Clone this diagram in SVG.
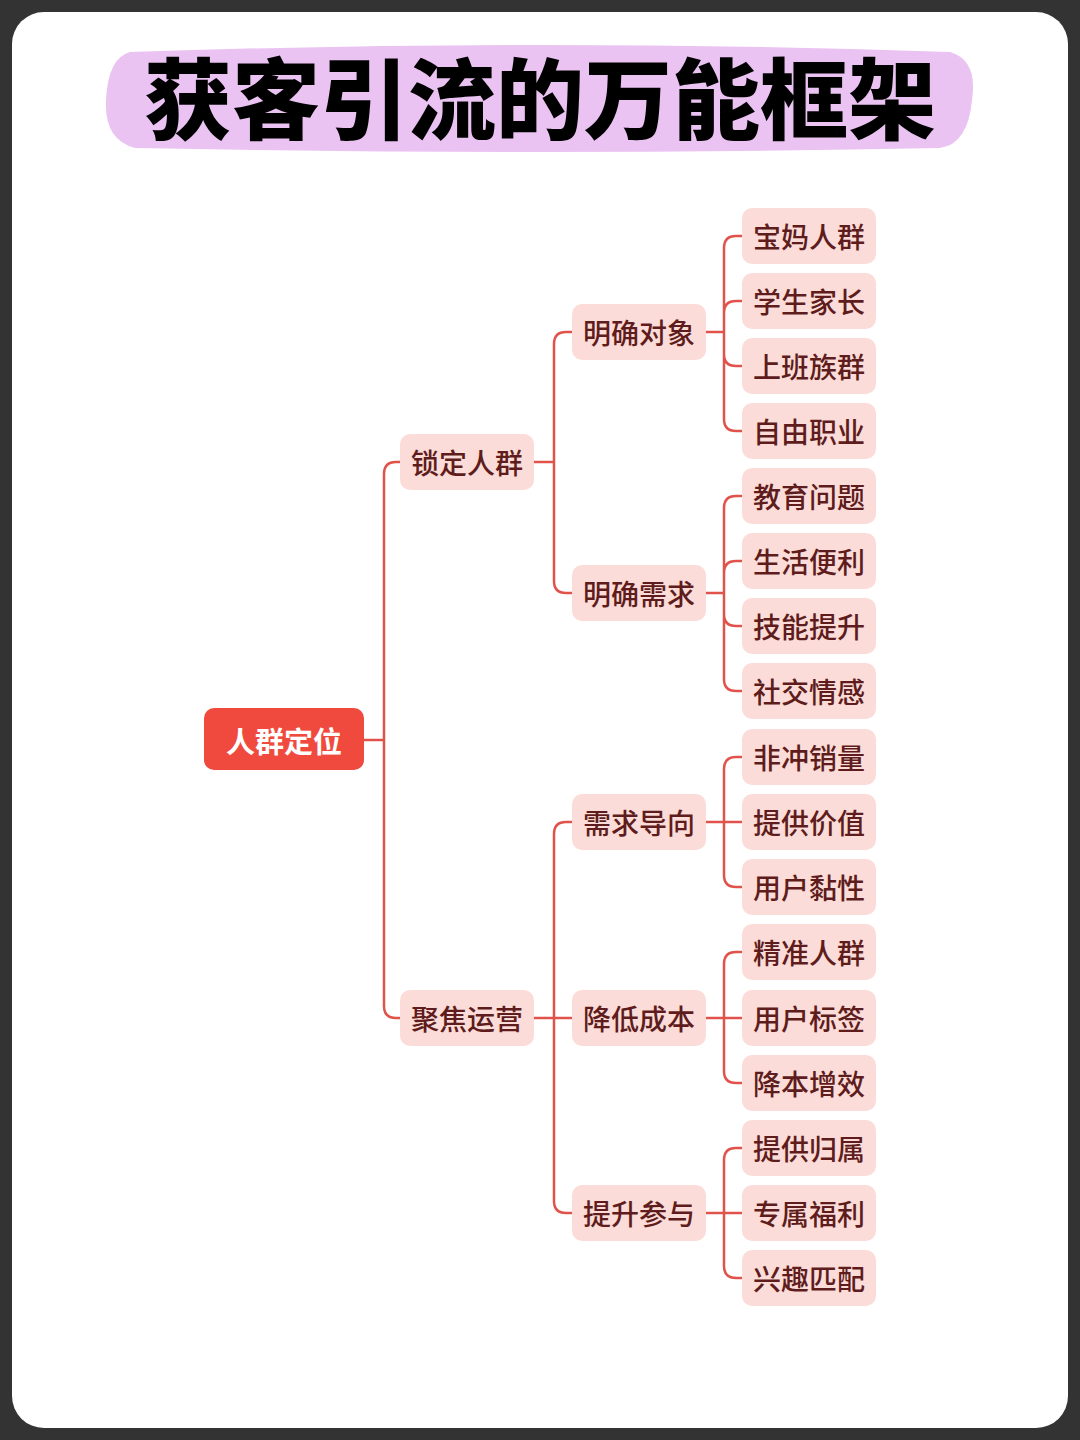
<svg xmlns="http://www.w3.org/2000/svg" width="1080" height="1440" viewBox="0 0 1080 1440">
<style>
.n rect{fill:#fcdcd8}
.n text{font-family:"Noto Sans CJK SC",sans-serif;font-size:28px;font-weight:500;fill:#5e1c1c;text-anchor:middle;dominant-baseline:central}
#conn path{fill:none;stroke:#e0534b;stroke-width:2.5}
</style>
<rect x="0" y="0" width="1080" height="1440" fill="#333"/>
<rect x="12" y="12" width="1056" height="1416" rx="32" fill="#fff"/>
<path d="M130,52 Q540,38 950,52 Q978,60 972,100 Q968,144 940,148 Q540,156 135,148 Q104,140 106,100 Q108,58 130,52Z" fill="#ebc3f2"/>
<text x="540" y="132" font-family="Noto Sans CJK SC,sans-serif" font-size="88" font-weight="900" text-anchor="middle" fill="#000">获客引流的万能框架</text>
<g id="conn">
<path d="M364,740 H384 M384,740 V474 Q384,462 396,462 H400 M384,740 V1006 Q384,1018 396,1018 H400"/>
<path d="M534,462 H554 V344 Q554,332 566,332 H572 M554,462 V581 Q554,593 566,593 H572"/>
<path d="M534,1018 H572 M554,1018 V834 Q554,822 566,822 H572 M554,1018 V1201 Q554,1213 566,1213 H572"/>
<path d="M706,332 H724 V248 Q724,236 736,236 H742 M724,332 V313 Q724,301 736,301 H742 M724,332 V354 Q724,366 736,366 H742 M724,332 V419 Q724,431 736,431 H742"/>
<path d="M706,593 H724 V508 Q724,496 736,496 H742 M724,593 V573 Q724,561 736,561 H742 M724,593 V614 Q724,626 736,626 H742 M724,593 V679 Q724,691 736,691 H742"/>
<path d="M706,822 H742 M724,822 V769 Q724,757 736,757 H742 M724,822 V875 Q724,887 736,887 H742"/>
<path d="M706,1018 H742 M724,1018 V964 Q724,952 736,952 H742 M724,1018 V1071 Q724,1083 736,1083 H742"/>
<path d="M706,1213 H742 M724,1213 V1160 Q724,1148 736,1148 H742 M724,1213 V1266 Q724,1278 736,1278 H742"/>
</g>
<g id="root"><rect x="204" y="708" width="160" height="62" rx="10" fill="#f04a3e"/><text x="284" y="740" font-family="Noto Sans CJK SC,sans-serif" font-size="29" font-weight="700" fill="#fff" text-anchor="middle" dominant-baseline="central">人群定位</text></g>
<g id="l1a" class="n"><rect x="400" y="434" width="134" height="56" rx="10"/><text x="467" y="462">锁定人群</text></g>
<g id="l1b" class="n"><rect x="400" y="990" width="134" height="56" rx="10"/><text x="467" y="1018">聚焦运营</text></g>
<g id="l2a" class="n"><rect x="572" y="304" width="134" height="56" rx="10"/><text x="639" y="332">明确对象</text></g>
<g id="l2b" class="n"><rect x="572" y="565" width="134" height="56" rx="10"/><text x="639" y="593">明确需求</text></g>
<g id="l2c" class="n"><rect x="572" y="794" width="134" height="56" rx="10"/><text x="639" y="822">需求导向</text></g>
<g id="l2d" class="n"><rect x="572" y="990" width="134" height="56" rx="10"/><text x="639" y="1018">降低成本</text></g>
<g id="l2e" class="n"><rect x="572" y="1185" width="134" height="56" rx="10"/><text x="639" y="1213">提升参与</text></g>
<g id="c1" class="n"><rect x="742" y="208" width="134" height="56" rx="10"/><text x="809" y="236">宝妈人群</text></g>
<g id="c2" class="n"><rect x="742" y="273" width="134" height="56" rx="10"/><text x="809" y="301">学生家长</text></g>
<g id="c3" class="n"><rect x="742" y="338" width="134" height="56" rx="10"/><text x="809" y="366">上班族群</text></g>
<g id="c4" class="n"><rect x="742" y="403" width="134" height="56" rx="10"/><text x="809" y="431">自由职业</text></g>
<g id="c5" class="n"><rect x="742" y="468" width="134" height="56" rx="10"/><text x="809" y="496">教育问题</text></g>
<g id="c6" class="n"><rect x="742" y="533" width="134" height="56" rx="10"/><text x="809" y="561">生活便利</text></g>
<g id="c7" class="n"><rect x="742" y="598" width="134" height="56" rx="10"/><text x="809" y="626">技能提升</text></g>
<g id="c8" class="n"><rect x="742" y="663" width="134" height="56" rx="10"/><text x="809" y="691">社交情感</text></g>
<g id="c9" class="n"><rect x="742" y="729" width="134" height="56" rx="10"/><text x="809" y="757">非冲销量</text></g>
<g id="c10" class="n"><rect x="742" y="794" width="134" height="56" rx="10"/><text x="809" y="822">提供价值</text></g>
<g id="c11" class="n"><rect x="742" y="859" width="134" height="56" rx="10"/><text x="809" y="887">用户黏性</text></g>
<g id="c12" class="n"><rect x="742" y="924" width="134" height="56" rx="10"/><text x="809" y="952">精准人群</text></g>
<g id="c13" class="n"><rect x="742" y="990" width="134" height="56" rx="10"/><text x="809" y="1018">用户标签</text></g>
<g id="c14" class="n"><rect x="742" y="1055" width="134" height="56" rx="10"/><text x="809" y="1083">降本增效</text></g>
<g id="c15" class="n"><rect x="742" y="1120" width="134" height="56" rx="10"/><text x="809" y="1148">提供归属</text></g>
<g id="c16" class="n"><rect x="742" y="1185" width="134" height="56" rx="10"/><text x="809" y="1213">专属福利</text></g>
<g id="c17" class="n"><rect x="742" y="1250" width="134" height="56" rx="10"/><text x="809" y="1278">兴趣匹配</text></g>
</svg>
